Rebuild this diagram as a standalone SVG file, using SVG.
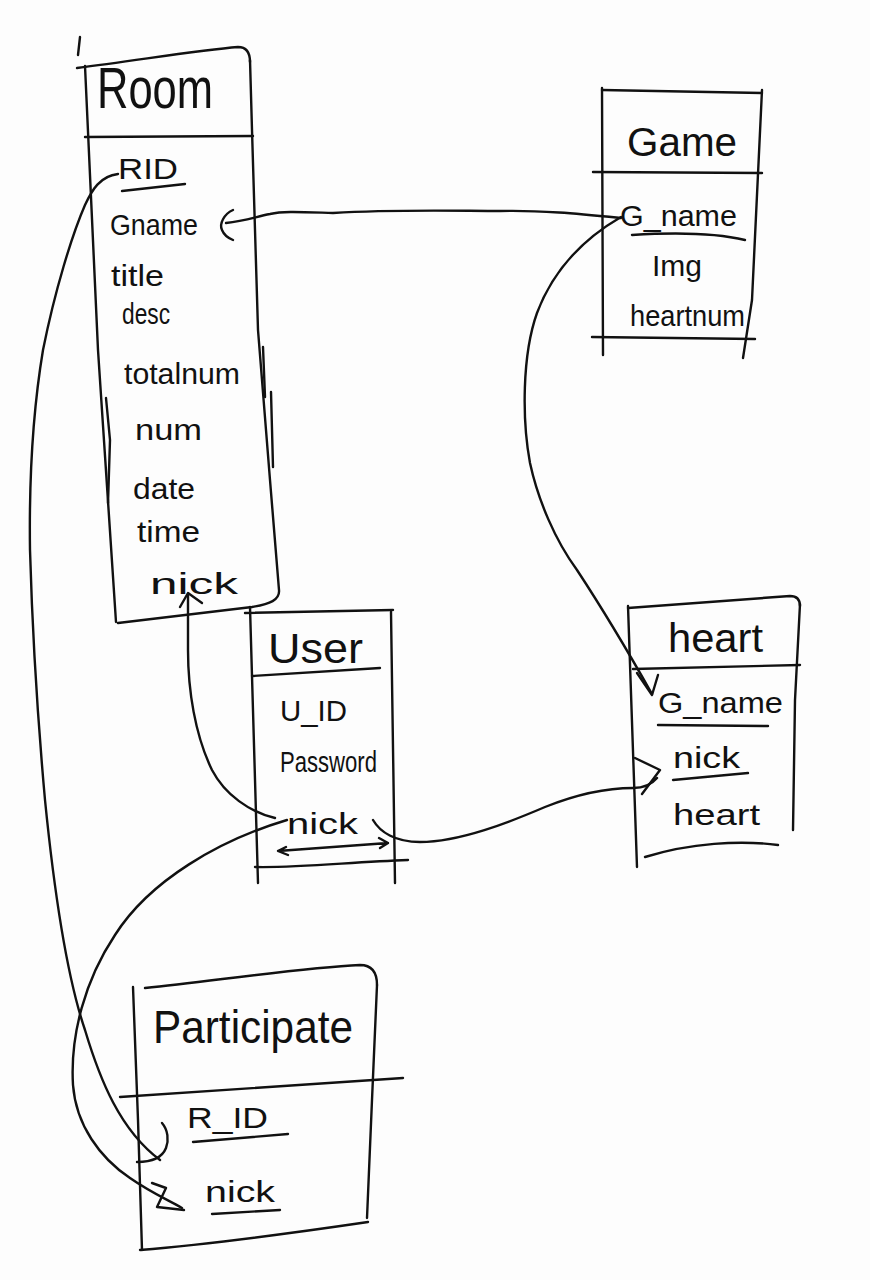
<svg xmlns="http://www.w3.org/2000/svg" width="870" height="1280" viewBox="0 0 870 1280">
<style>
.s{fill:none;stroke:#111;stroke-width:2.4;stroke-linecap:round;stroke-linejoin:round}
.t{font-family:"Liberation Sans","DejaVu Sans",sans-serif;fill:#111}
.h{font-size:46px}
.a{font-size:30px}
</style>
<rect x="0" y="0" width="870" height="1280" fill="#fdfdfd"/>
<g id="room">
<path class="s" d="M80 37 L78 55"/>
<path class="s" d="M77 68 C140 60 200 50 238 47 C247 47 250 54 250 62"/>
<path class="s" d="M85 66 L98 350 L116 622"/>
<path class="s" d="M250 60 L252 130 L258 330 L270 480 L279 590 C280 600 270 604 252 607 L118 623"/>
<path class="s" d="M85 137 L253 136"/>
<path class="s" d="M263 347 L265 397"/>
<path class="s" d="M271 392 L273 467"/>
<path class="s" d="M106 398 L110 440 L108 503"/>
<text class="t" x="97" y="108" textLength="116" lengthAdjust="spacingAndGlyphs" font-size="58">Room</text>
<text class="t a" x="118" y="179" textLength="60" lengthAdjust="spacingAndGlyphs">RID</text>
<path class="s" d="M122 191 L185 184"/>
<text class="t a" x="110" y="235" textLength="88" lengthAdjust="spacingAndGlyphs">Gname</text>
<text class="t a" x="111" y="286" textLength="53" lengthAdjust="spacingAndGlyphs">title</text>
<text class="t a" x="122" y="324" textLength="48" lengthAdjust="spacingAndGlyphs">desc</text>
<text class="t a" x="124" y="384" textLength="116" lengthAdjust="spacingAndGlyphs">totalnum</text>
<text class="t a" x="135" y="440" textLength="67" lengthAdjust="spacingAndGlyphs">num</text>
<text class="t a" x="133" y="499" textLength="62" lengthAdjust="spacingAndGlyphs">date</text>
<text class="t a" x="137" y="542" textLength="63" lengthAdjust="spacingAndGlyphs">time</text>
<text class="t a" x="150" y="594" textLength="88" lengthAdjust="spacingAndGlyphs" font-size="36">nick</text>
</g>
<g id="game">
<path class="s" d="M602 90 L762 93"/>
<path class="s" d="M602 88 L603 355"/>
<path class="s" d="M762 90 L752 300 L743 358"/>
<path class="s" d="M593 172 L762 173"/>
<path class="s" d="M592 337 L755 339"/>
<text class="t" x="627" y="156" font-size="40" textLength="110" lengthAdjust="spacingAndGlyphs">Game</text>
<text class="t a" x="620" y="226" textLength="117" lengthAdjust="spacingAndGlyphs">G_name</text>
<path class="s" d="M632 235 C680 232 720 234 745 240"/>
<text class="t a" x="652" y="276" textLength="50" lengthAdjust="spacingAndGlyphs">Img</text>
<text class="t a" x="630" y="326" textLength="115" lengthAdjust="spacingAndGlyphs">heartnum</text>
</g>
<g id="user">
<path class="s" d="M245 613 L393 610"/>
<path class="s" d="M250 607 L258 883"/>
<path class="s" d="M391 612 L395 883"/>
<path class="s" d="M252 676 L380 668"/>
<path class="s" d="M255 867 C300 868 350 862 408 860"/>
<text class="t" x="268" y="663" font-size="42" textLength="95" lengthAdjust="spacingAndGlyphs">User</text>
<text class="t a" x="280" y="721" textLength="67" lengthAdjust="spacingAndGlyphs">U_ID</text>
<text class="t a" x="280" y="772" textLength="97" lengthAdjust="spacingAndGlyphs">Password</text>
<text class="t a" x="287" y="834" textLength="71" lengthAdjust="spacingAndGlyphs" font-size="34">nick</text>
<path class="s" d="M278 851 L388 843 M379 838 L388 843 L380 848 M286 847 L278 851 L288 855"/>
</g>
<g id="heart">
<path class="s" d="M628 608 L790 596 C797 596 800 600 800 606"/>
<path class="s" d="M800 604 L795 700 L793 830"/>
<path class="s" d="M628 606 L637 867"/>
<path class="s" d="M633 669 L800 665"/>
<path class="s" d="M645 857 C690 843 740 840 778 845"/>
<text class="t" x="668" y="652" font-size="40" textLength="95" lengthAdjust="spacingAndGlyphs">heart</text>
<text class="t a" x="658" y="713" textLength="125" lengthAdjust="spacingAndGlyphs">G_name</text>
<path class="s" d="M658 725 L768 726"/>
<text class="t a" x="673" y="768" textLength="67" lengthAdjust="spacingAndGlyphs">nick</text>
<path class="s" d="M673 780 L748 773"/>
<text class="t a" x="673" y="825" textLength="87" lengthAdjust="spacingAndGlyphs">heart</text>
</g>
<g id="participate">
<path class="s" d="M145 988 C220 980 300 968 360 965 C372 965 377 972 377 985"/>
<path class="s" d="M377 985 L372 1100 L367 1218"/>
<path class="s" d="M140 1250 C200 1245 300 1232 368 1222"/>
<path class="s" d="M133 987 L138 1120 L142 1250"/>
<path class="s" d="M120 1097 L403 1078"/>
<text class="t h" x="153" y="1043" textLength="200" lengthAdjust="spacingAndGlyphs">Participate</text>
<text class="t a" x="187" y="1128" textLength="81" lengthAdjust="spacingAndGlyphs">R_ID</text>
<path class="s" d="M193 1142 L288 1134"/>
<text class="t a" x="205" y="1202" textLength="70" lengthAdjust="spacingAndGlyphs">nick</text>
<path class="s" d="M212 1214 L280 1210"/>
</g>
<g id="connectors">
<path class="s" d="M621 218 C580 214 540 210 500 211 C460 211 400 209 333 213 C300 212 283 211 270 214 C255 217 245 221 226 223"/>
<path class="s" d="M233 210 C224 214 219 224 222 230 C224 235 228 238 233 240"/>
<path class="s" d="M621 217 C590 235 555 265 537 313 C522 355 522 420 530 463 C538 500 555 540 577 570 C600 605 630 655 652 694"/>
<path class="s" d="M637 673 L652 695 L658 675"/>
<path class="s" d="M118 174 C100 176 92 190 85 205 C72 235 55 290 43 350 C33 410 29 480 30 550 C32 620 36 700 45 800 C55 900 68 980 85 1030 C100 1080 120 1130 160 1160"/>
<path class="s" d="M162 1123 C168 1130 169 1140 166 1148 C162 1158 150 1162 137 1162"/>
<path class="s" d="M287 820 C220 840 150 880 115 935 C85 980 70 1035 73 1085 C76 1125 100 1158 130 1178 C150 1192 168 1200 182 1208"/>
<path class="s" d="M152 1183 L166 1188 L157 1207 L184 1210"/>
<path class="s" d="M275 818 C250 812 225 795 212 770 C195 735 188 690 188 650 C188 625 188 605 188 594"/>
<path class="s" d="M180 607 L188 593 L202 603"/>
<path class="s" d="M373 820 C380 832 395 842 420 842 C460 842 510 822 545 807 C580 793 610 788 633 788 C645 788 652 784 657 778"/>
<path class="s" d="M635 758 L660 770 L642 794"/>
</g>
</svg>
